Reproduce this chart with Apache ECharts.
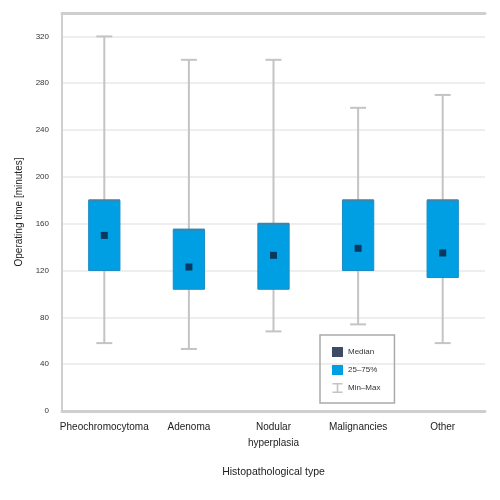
<!DOCTYPE html>
<html>
<head>
<meta charset="utf-8">
<script src="https://cdn.jsdelivr.net/npm/echarts@6/dist/echarts.min.js"></script>
<style>html,body{margin:0;padding:0;background:#fff}#c{width:500px;height:500px}</style>
</head>
<body>
<div id="c"></div>
<script>
const categories = ['Pheochromocytoma', 'Adenoma', 'Nodular\nhyperplasia', 'Malignancies', 'Other'];
const minValues = [58, 53, 68, 74, 58];
const q1Values = [120, 104, 104, 120, 114];
const medianValues = [150, 123, 133, 139, 135];
const q3Values = [180, 155, 160, 180, 180];
const maxValues = [320, 300, 300, 259, 270];
const yTicks = [0, 40, 80, 120, 160, 200, 240, 280, 320];

const FONT = 'Liberation Sans';
const chart = echarts.init(document.getElementById('c'));

const boxData = categories.map((c, i) => [i, q1Values[i], q3Values[i]]);
const whiskerData = categories.map((c, i) => [i, minValues[i], maxValues[i]]);
const medianData = categories.map((c, i) => [i, medianValues[i]]);

chart.setOption({
  animation: false,
  textStyle: { fontFamily: FONT },
  grid: { left: 62, right: 15, top: 13, bottom: 89 },
  legend: {
    orient: 'vertical',
    left: 320, top: 335,
    width: 80,
    padding: [12, 14, 10, 12],
    itemGap: 8,
    itemWidth: 11, itemHeight: 10,
    borderColor: '#aaa', borderWidth: 1.5,
    textStyle: { fontSize: 8, color: '#333', fontFamily: FONT },
    data: [
      { name: 'Median', icon: 'rect' },
      { name: '25–75%', icon: 'rect' },
      { name: 'Min–Max', icon: 'path://M0,0H10V1.5H5.8V8.5H10V10H0V8.5H4.2V1.5H0Z' }
    ]
  },
  xAxis: [{
    type: 'category',
    data: categories,
    name: 'Histopathological type',
    nameLocation: 'middle',
    nameGap: 56,
    nameTextStyle: { fontSize: 10.5, color: '#222' },
    axisLine: { lineStyle: { color: '#cfcfcf', width: 3 } },
    axisTick: { show: false },
    axisLabel: { fontSize: 10, color: '#222', margin: 8, interval: 0, lineHeight: 16 },
    splitLine: { show: false }
  }, {
    type: 'category',
    data: categories,
    position: 'top',
    axisLine: { lineStyle: { color: '#cfcfcf', width: 3 } },
    axisTick: { show: false },
    axisLabel: { show: false }
  }],
  yAxis: {
    type: 'value',
    min: 0, max: 340, interval: 40,
    name: 'Operating time [minutes]',
    nameLocation: 'middle',
    nameGap: 38,
    nameTextStyle: { fontSize: 10, color: '#222' },
    axisLine: { show: true, lineStyle: { color: '#cfcfcf', width: 2 } },
    axisTick: { show: false },
    axisLabel: {
      fontSize: 8, color: '#333', margin: 13,
      formatter: v => (yTicks.indexOf(v) >= 0 ? String(v) : '')
    },
    splitLine: { lineStyle: { color: '#e8e8e8', width: 1.5 } }
  },
  series: [
    {
      name: 'Min–Max',
      type: 'custom',
      itemStyle: { color: '#c4c4c4' },
      data: whiskerData,
      z: 1,
      renderItem: function (params, api) {
        const i = api.value(0);
        const pMin = api.coord([i, api.value(1)]);
        const pMax = api.coord([i, api.value(2)]);
        const cap = 8;
        const style = { stroke: '#c4c4c4', lineWidth: 2 };
        return {
          type: 'group',
          children: [
            { type: 'line', shape: { x1: pMin[0], y1: pMin[1], x2: pMax[0], y2: pMax[1] }, style },
            { type: 'line', shape: { x1: pMin[0] - cap, y1: pMin[1], x2: pMin[0] + cap, y2: pMin[1] }, style },
            { type: 'line', shape: { x1: pMax[0] - cap, y1: pMax[1], x2: pMax[0] + cap, y2: pMax[1] }, style }
          ]
        };
      }
    },
    {
      name: '25–75%',
      type: 'custom',
      itemStyle: { color: '#009fe3' },
      data: boxData,
      z: 2,
      renderItem: function (params, api) {
        const i = api.value(0);
        const pLo = api.coord([i, api.value(1)]);
        const pHi = api.coord([i, api.value(2)]);
        const w = api.size([1, 0])[0] * 0.37;
        return {
          type: 'group',
          children: [
            { type: 'rect', shape: { x: pLo[0] - w / 2, y: pHi[1], width: w, height: pLo[1] - pHi[1] },
              style: { fill: '#009fe3', stroke: '#1c8cc4', lineWidth: 1 } },
            { type: 'line', shape: { x1: pLo[0] - w / 2, y1: pHi[1], x2: pLo[0] + w / 2, y2: pHi[1] },
              style: { stroke: '#3a86ad', lineWidth: 2 } }
          ]
        };
      }
    },
    {
      name: 'Median',
      type: 'scatter',
      symbol: 'rect',
      symbolSize: 7,
      itemStyle: { color: '#0c1f3d' },
      data: medianData,
      z: 3
    }
  ]
});
</script>
</body>
</html>
